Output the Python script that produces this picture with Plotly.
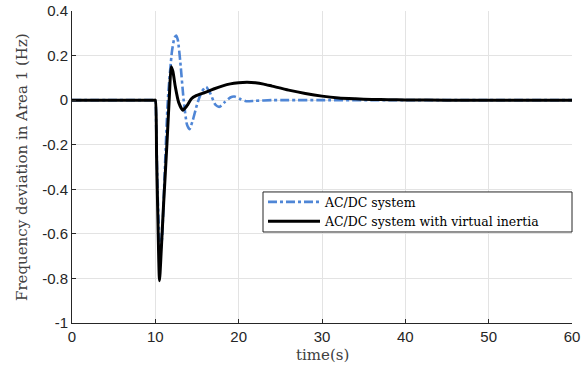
import plotly.graph_objects as go

# Black: AC/DC system with virtual inertia
t_vi = [0, 5, 9.5, 9.9, 10.0, 10.15, 10.3, 10.5, 10.7, 11.0, 11.4, 11.7, 11.9, 12.1, 12.4, 12.8, 13.3,
        13.8, 14.3, 14.9, 16, 17, 18, 19, 20, 21, 22, 23, 24, 26, 28, 30, 32, 34, 36, 38, 40, 45, 50, 60]
f_vi = [0, 0, 0, 0, 0, -0.25, -0.52, -0.81, -0.68, -0.46, -0.19, 0.03, 0.15, 0.13, 0.06, -0.01, -0.045,
        -0.025, 0.005, 0.02, 0.035, 0.05, 0.063, 0.073, 0.078, 0.08, 0.078, 0.072, 0.063, 0.045, 0.03,
        0.018, 0.01, 0.006, 0.003, 0.002, 0.001, 0, 0, 0]

# Blue: AC/DC system
t_ac = [0, 5, 9.5, 9.9, 10.0, 10.1, 10.3, 10.6, 10.8, 11.1, 11.5, 12.0, 12.3, 12.5, 12.7, 13.0, 13.4,
        13.8, 14.1, 14.5, 15.0, 15.6, 16.1, 16.6, 17.2, 17.7, 18.3, 19.0, 19.5, 20.2, 20.9, 22, 24, 26,
        30, 40, 50, 60]
f_ac = [0, 0, 0, 0, 0, -0.12, -0.45, -0.68, -0.62, -0.35, 0.0, 0.22, 0.28, 0.29, 0.27, 0.17, 0.0,
        -0.11, -0.13, -0.09, -0.02, 0.04, 0.06, 0.03, -0.02, -0.03, -0.01, 0.012, 0.016, 0.005, -0.005,
        -0.003, 0.0, 0.0, 0, 0, 0, 0]

x_ticks = [0, 10, 20, 30, 40, 50, 60]
y_ticks = [-1, -0.8, -0.6, -0.4, -0.2, 0, 0.2, 0.4]
y_tick_labels = ["-1", "-0.8", "-0.6", "-0.4", "-0.2", "0", "0.2", "0.4"]

fig = go.Figure()
fig.add_trace(go.Scatter(x=t_ac, y=f_ac, mode="lines", name="AC/DC system",
                         line=dict(color="#4f86d6", width=2.6, dash="dashdot", shape="spline", smoothing=0.6)))
fig.add_trace(go.Scatter(x=t_vi, y=f_vi, mode="lines", name="AC/DC system with virtual inertia",
                         line=dict(color="black", width=3, shape="spline", smoothing=0.6)))

tickfont = dict(family="Liberation Sans, Arial, sans-serif", size=15, color="#262626")
titlefont = dict(family="DejaVu Serif, serif", size=15, color="#404040")

fig.update_layout(
    width=583, height=373,
    margin=dict(l=72, r=11, t=11, b=50),
    paper_bgcolor="white", plot_bgcolor="white",
    showlegend=True,
    legend=dict(x=0.382, y=0.435, xanchor="left", yanchor="top",
                bgcolor="rgba(0,0,0,0)", borderwidth=0,
                font=dict(family="DejaVu Serif, serif", size=12.5, color="black"),
                tracegroupgap=0, itemwidth=52),
    shapes=[dict(type="rect", xref="paper", yref="paper", x0=0.382, x1=1.0, y0=0.2917, y1=0.42,
                 line=dict(color="#262626", width=1), fillcolor="white", layer="above")],
    xaxis=dict(range=[0, 60], tickvals=x_ticks, ticktext=[str(v) for v in x_ticks],
               showgrid=True, gridcolor="#e3e3e3", gridwidth=1, zeroline=False,
               showline=True, linecolor="#262626", linewidth=1, mirror=False, automargin=False,
               ticklabeloverflow="allow",
               ticks="inside", ticklen=4, tickcolor="#262626", tickfont=tickfont),
    yaxis=dict(range=[-1, 0.4], tickvals=y_ticks, ticktext=y_tick_labels,
               showgrid=True, gridcolor="#e3e3e3", gridwidth=1, zeroline=False,
               showline=True, linecolor="#262626", linewidth=1, mirror=False, automargin=False,
               ticklabeloverflow="allow",
               ticks="inside", ticklen=4, tickcolor="#262626", tickfont=tickfont),
    annotations=[
        dict(text="time(s)", xref="paper", yref="paper", x=0.5, y=0, yshift=-32,
             xanchor="center", yanchor="middle", showarrow=False, font=titlefont),
        dict(text="Frequency deviation in Area 1 (Hz)", xref="paper", yref="paper", x=0, y=0.5,
             xshift=-50, textangle=-90, xanchor="center", yanchor="middle", showarrow=False,
             font=titlefont),
    ],
)

# remove the page's default 8px body margin so the figure fills the window exactly
fig.write_html("out.html", config={"displayModeBar": False},
               post_script="document.body.style.margin='0';document.body.style.overflow='hidden';")
